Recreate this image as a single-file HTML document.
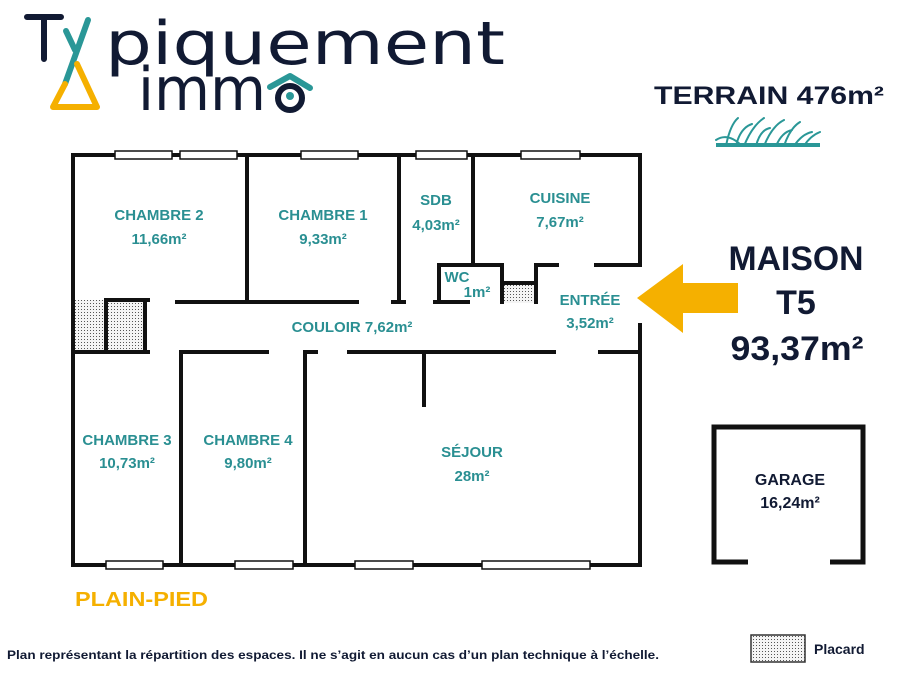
<!DOCTYPE html>
<html><head><meta charset="utf-8"><style>
html,body{margin:0;padding:0;background:#fff;}
svg{display:block;}
text{font-family:"Liberation Sans",sans-serif;font-weight:bold;}
.t{fill:#2a8f92;font-size:15px;}
.d{fill:#111a33;}
</style></head><body>
<svg width="902" height="678" viewBox="0 0 902 678" xmlns="http://www.w3.org/2000/svg">
<defs>
<pattern id="dots" width="3" height="3" patternUnits="userSpaceOnUse">
<rect width="3" height="3" fill="#f4f4f4"/><rect width="1" height="1" fill="#555"/>
</pattern>
</defs>
<!-- logo -->
<path d="M27 17 H61 M44 17 V59" stroke="#111a33" stroke-width="6" stroke-linecap="round" fill="none"/>
<text x="105" y="64" class="d" style="font-family:'DejaVu Sans',sans-serif;font-weight:normal;font-size:60px" textLength="400" lengthAdjust="spacingAndGlyphs">piquement</text>
<path d="M66 31 L75 50 M88 20 L65 84" stroke="#2a9797" stroke-width="6" stroke-linecap="round" fill="none"/>
<path d="M65 84 L53 107 H97 L77 64" stroke="#f5b000" stroke-width="6" stroke-linecap="round" stroke-linejoin="round" fill="none"/>
<text x="138" y="110" class="d" style="font-family:'DejaVu Sans',sans-serif;font-weight:normal;font-size:60px" textLength="128" lengthAdjust="spacingAndGlyphs">imm</text>
<circle cx="290" cy="98" r="12" fill="none" stroke="#111a33" stroke-width="6"/>
<circle cx="290" cy="96" r="4" fill="#2a9797"/>
<path d="M270 87 L290 76 L310 88" stroke="#2a9797" stroke-width="6" stroke-linecap="round" stroke-linejoin="round" fill="none"/>
<!-- terrain -->
<text x="654" y="104" class="d" font-size="25" textLength="230" lengthAdjust="spacingAndGlyphs">TERRAIN 476m²</text>
<g stroke="#2a9797" stroke-width="2" fill="none" stroke-linecap="round">
<path d="M716 140 Q728 132 742 146 M726 146 Q730 125 738 118 M736 146 Q740 128 752 124 M744 146 Q752 126 764 118 M756 146 Q760 130 770 128 M764 146 Q772 126 784 120 M776 146 Q782 132 792 130 M784 146 Q790 128 800 122 M794 146 Q802 134 812 132 M804 146 Q810 136 820 132"/>
</g>
<path d="M716 145 H820" stroke="#2a9797" stroke-width="4"/>
<!-- maison -->
<text x="796" y="270" text-anchor="middle" class="d" font-size="34" textLength="135" lengthAdjust="spacingAndGlyphs">MAISON</text>
<text x="796" y="314" text-anchor="middle" class="d" font-size="34">T5</text>
<text x="797" y="360" text-anchor="middle" class="d" font-size="34" textLength="133" lengthAdjust="spacingAndGlyphs">93,37m²</text>
<!-- arrow -->
<polygon points="637,298 683,264 683,283 738,283 738,313 683,313 683,333" fill="#f5b000"/>
<!-- closets -->
<rect x="75" y="300" width="31" height="52" fill="url(#dots)"/>
<rect x="108" y="300" width="35" height="52" fill="url(#dots)"/>
<rect x="502" y="283" width="33" height="20" fill="url(#dots)"/>
<!-- walls -->
<g stroke="#111" stroke-width="4" fill="none" stroke-linecap="square">
<path d="M73 155 H640 V265"/>
<path d="M640 325 V565 H73 V155"/>
<path d="M247 155 V302 M399 155 V302 M473 155 V265 M596 265 H640 M536 265 H557 M536 265 V302 M439 265 H502 V302 M439 265 V302 M502 283 H536"/>
<path d="M177 302 H357 M393 302 H404 M435 302 H468"/>
<path d="M106 300 H148 M106 300 V352 M145 300 V352 M75 352 H148"/>
<path d="M181 352 H267 M305 352 H316 M349 352 H554 M600 352 H640 M181 352 V565 M305 352 V565 M424 352 V405"/>
</g>
<!-- windows -->
<g fill="#fff" stroke="#111" stroke-width="1.5">
<rect x="115" y="151" width="57" height="8"/><rect x="180" y="151" width="57" height="8"/>
<rect x="301" y="151" width="57" height="8"/><rect x="416" y="151" width="51" height="8"/>
<rect x="521" y="151" width="59" height="8"/>
<rect x="106" y="561" width="57" height="8"/><rect x="235" y="561" width="58" height="8"/>
<rect x="355" y="561" width="58" height="8"/><rect x="482" y="561" width="108" height="8"/>
</g>
<!-- garage -->
<path d="M748 562 H714 V427 H863 V562 H830" stroke="#111" stroke-width="5" fill="none"/>
<text x="790" y="485" text-anchor="middle" class="d" font-size="16">GARAGE</text>
<text x="790" y="508" text-anchor="middle" class="d" font-size="16">16,24m²</text>
<!-- room labels -->
<g class="t" text-anchor="middle">
<text x="159" y="220">CHAMBRE 2</text><text x="159" y="244">11,66m²</text>
<text x="323" y="220">CHAMBRE 1</text><text x="323" y="244">9,33m²</text>
<text x="436" y="205">SDB</text><text x="436" y="230">4,03m²</text>
<text x="560" y="203">CUISINE</text><text x="560" y="227">7,67m²</text>
<text x="457" y="282">WC</text><text x="477" y="297">1m²</text>
<text x="590" y="305">ENTRÉE</text><text x="590" y="328">3,52m²</text>
<text x="352" y="332">COULOIR 7,62m²</text>
<text x="127" y="445">CHAMBRE 3</text><text x="127" y="468">10,73m²</text>
<text x="248" y="445">CHAMBRE 4</text><text x="248" y="468">9,80m²</text>
<text x="472" y="457">SÉJOUR</text><text x="472" y="481">28m²</text>
</g>
<text x="75" y="606" fill="#f5b000" font-size="20" textLength="133" lengthAdjust="spacingAndGlyphs">PLAIN-PIED</text>
<text x="7" y="659" class="d" font-size="12" textLength="652" lengthAdjust="spacingAndGlyphs">Plan représentant la répartition des espaces. Il ne s’agit en aucun cas d’un plan technique à l’échelle.</text>
<rect x="751" y="635" width="54" height="27" fill="url(#dots)" stroke="#333" stroke-width="1.5"/>
<text x="814" y="654" class="d" font-size="14">Placard</text>
</svg>
</body></html>
